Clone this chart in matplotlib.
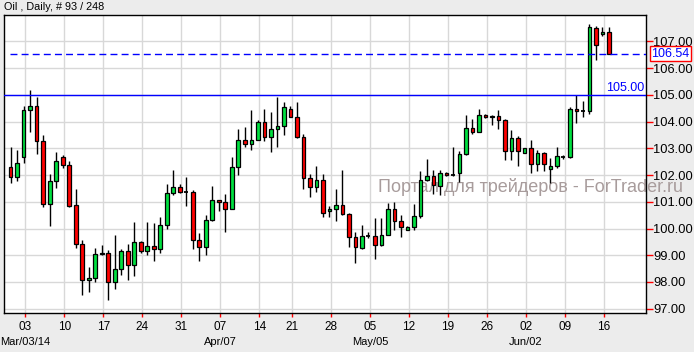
import numpy as np
import pandas as pd
import matplotlib
matplotlib.use("Agg")
import matplotlib.pyplot as plt
from matplotlib.transforms import blended_transform_factory

plt.rcParams['font.family'] = ['Liberation Sans', 'DejaVu Sans']

# Oil, Daily: 93 bars (Sun-Fri sessions)
opens = [102.30, 101.93, 102.67, 104.44, 104.59, 103.26, 100.93, 101.78, 102.67, 102.37,
         100.89, 99.44, 98.06, 98.15, 99.09, 99.07, 98.00, 98.48, 99.15, 98.65,
         99.48, 99.17, 99.33, 99.25, 100.15, 101.33, 101.56, 101.37, 101.37, 99.59,
         99.30, 100.31, 101.07, 101.00, 100.74, 102.30, 103.33, 103.17, 103.33, 104.00,
         103.43, 103.74, 103.85, 104.48, 104.19, 103.43, 101.89, 101.56, 101.81, 100.65,
         100.74, 100.89, 100.55, 99.70, 99.29, 99.72, 99.73, 99.40, 99.77, 100.74,
         100.30, 99.96, 100.04, 100.48, 101.81, 101.95, 101.59, 102.06, 102.01, 102.06,
         102.80, 103.78, 103.62, 104.25, 104.16, 104.22, 104.08, 102.92, 103.38, 102.81,
         103.00, 102.40, 102.81, 102.21, 102.33, 102.67, 102.66, 104.46, 104.41, 104.41,
         107.50, 107.28, 107.35]
highs = [103.05, 102.94, 104.57, 105.20, 104.94, 103.49, 102.05, 102.86, 102.74, 102.53,
         101.49, 99.56, 98.56, 99.27, 99.38, 99.20, 99.75, 99.23, 99.42, 100.25,
         99.52, 100.26, 100.22, 100.42, 101.67, 102.20, 101.67, 101.93, 101.46, 99.83,
         100.49, 101.60, 101.08, 101.31, 102.68, 103.74, 103.79, 104.42, 104.07, 104.49,
         104.36, 104.94, 104.75, 104.57, 104.72, 103.53, 102.04, 102.35, 102.04, 100.86,
         101.49, 102.19, 100.59, 99.87, 100.12, 99.87, 100.40, 100.38, 100.95, 100.98,
         100.52, 100.11, 100.90, 102.17, 102.60, 102.20, 102.20, 102.10, 103.04, 102.90,
         104.25, 104.11, 104.46, 104.30, 104.26, 104.44, 104.10, 103.70, 103.48, 103.00,
         103.31, 102.94, 102.88, 102.63, 103.06, 102.75, 104.56, 105.01, 104.79, 107.66,
         107.59, 107.53, 107.55]
lows = [101.69, 101.77, 102.47, 103.62, 102.80, 100.80, 100.10, 101.51, 102.25, 100.80,
        99.28, 97.51, 97.62, 98.01, 99.02, 97.32, 97.73, 98.28, 98.07, 98.22,
        99.10, 99.02, 98.77, 99.10, 99.98, 101.25, 101.33, 100.84, 99.25, 98.80,
        99.02, 100.27, 100.65, 99.88, 100.74, 101.99, 103.06, 102.95, 103.31, 103.27,
        102.88, 103.06, 103.51, 104.16, 103.40, 101.48, 101.19, 101.37, 100.43, 100.43,
        100.28, 100.49, 99.31, 98.71, 99.24, 99.65, 98.86, 99.35, 99.77, 99.96,
        99.70, 99.93, 99.96, 100.40, 101.79, 101.31, 101.25, 101.95, 101.95, 101.73,
        102.76, 103.54, 103.60, 104.14, 103.88, 103.74, 102.58, 102.58, 102.35, 102.81,
        102.06, 102.16, 102.16, 101.69, 102.25, 102.62, 102.64, 103.94, 104.16, 104.29,
        106.31, 107.21, 106.54]
closes = [101.93, 102.44, 104.44, 104.59, 103.26, 100.93, 101.78, 102.53, 102.37, 100.86,
          99.43, 98.06, 98.15, 99.04, 99.03, 98.00, 98.48, 99.15, 98.65, 99.48,
          99.17, 99.33, 99.25, 100.15, 101.33, 101.56, 101.37, 101.35, 99.59, 99.30,
          100.31, 101.07, 101.00, 100.74, 102.30, 103.33, 103.17, 103.33, 104.00, 103.43,
          103.74, 103.85, 104.56, 104.19, 103.43, 101.89, 101.56, 101.81, 100.59, 100.74,
          100.89, 100.55, 99.70, 99.31, 99.73, 99.73, 99.40, 99.77, 100.74, 100.30,
          100.04, 100.04, 100.48, 101.81, 101.95, 101.62, 102.06, 101.99, 101.99, 102.80,
          103.78, 103.62, 104.25, 104.16, 104.22, 104.08, 102.92, 103.38, 102.91, 103.00,
          102.40, 102.81, 102.40, 102.33, 102.71, 102.69, 104.46, 104.39, 104.40, 107.54,
          106.85, 107.35, 106.54]

level_line = 105.00
last_price = 106.54
yticks = [97, 98, 99, 100, 101, 102, 103, 104, 105, 106, 107]
month_labels = {'2014-03-03': 'Mar/03/14', '2014-04-07': 'Apr/07',
                '2014-05-05': 'May/05', '2014-06-02': 'Jun/02'}

dates = pd.bdate_range('2014-02-28', periods=len(closes), freq='C',
                       weekmask='Sun Mon Tue Wed Thu Fri', holidays=['2014-04-18'])

o = np.array(opens); h = np.array(highs); l = np.array(lows); c = np.array(closes)
x = np.arange(len(c))

bg = '#ececec'
fig = plt.figure(figsize=(6.94, 3.52), dpi=100, facecolor=bg)
ax = fig.add_axes([4 / 694, 1 - 313 / 352, 642 / 694, 298 / 352])
ax.set_facecolor('white')

# grid
mondays = [i for i, d in enumerate(dates) if d.weekday() == 0]
for i in mondays:
    ax.axvline(i + 0.26, color='#d8d8d8', lw=1, zorder=0)
for v in yticks:
    ax.axhline(v, color='#d8d8d8', lw=1, zorder=0)

# candles
ax.vlines(x, l, h, color='black', lw=1, zorder=2)
doji = np.abs(c - o) < 0.03
up = (c >= o) & ~doji
dn = (c < o) & ~doji
ax.bar(x[up], (c - o)[up], bottom=o[up], width=0.55, color='#00e040',
       edgecolor='black', lw=0.9, zorder=3)
ax.bar(x[dn], (o - c)[dn], bottom=c[dn], width=0.55, color='#ff0000',
       edgecolor='black', lw=0.9, zorder=3)
ax.hlines(o[doji], x[doji] - 0.3, x[doji] + 0.3, color='black', lw=1.3, zorder=3)

# levels
ax.axhline(level_line, color='#0000ff', lw=1, zorder=4)
ax.hlines(last_price, -0.1, 98, color='#0000ff', lw=1, linestyles=(0, (5, 3)), zorder=4)
ax.text(0.998, level_line + 0.04, f'{level_line:.2f}', color='#0000ff', fontsize=9,
        ha='right', va='bottom', transform=blended_transform_factory(ax.transAxes, ax.transData))
ax.text(1.008, last_price, f'{last_price:.2f}', color='#0000ff', fontsize=9,
        ha='left', va='center', transform=blended_transform_factory(ax.transAxes, ax.transData),
        bbox=dict(boxstyle='square,pad=0.12', fc='white', ec='red', lw=1), clip_on=False, zorder=6)

ax.set_xlim(-1.03, 97.7)
ax.set_ylim(96.84, 107.99)

ax.yaxis.tick_right()
ax.set_yticks(yticks)
ax.set_yticklabels([f'{v:.2f}' for v in yticks])
ax.tick_params(axis='y', colors='red', labelcolor='black', length=5, width=1, pad=0, labelsize=9.3)

ax.set_xticks([i + 0.26 for i in mondays])
ax.set_xticklabels([dates[i].strftime('%d') for i in mondays])
ax.tick_params(axis='x', colors='red', labelcolor='black', length=3, width=1, pad=3, labelsize=8.5)

for i in mondays:
    key = dates[i].strftime('%Y-%m-%d')
    if key in month_labels:
        ax.text(i + 0.26, -0.097, month_labels[key], fontsize=8, ha='center', va='center',
                transform=ax.get_xaxis_transform())

for s in ax.spines.values():
    s.set_color('black')
    s.set_linewidth(1)

fig.text(4 / 694, 1 - 7 / 352, 'Oil , Daily, # 93 / 248', fontsize=7.8, ha='left', va='center')
ax.text(378 / 694, 1 - 187.5 / 352, 'Портал для трейдеров - ForTrader.ru', fontsize=13,
        color='#a89c9c', ha='left', va='center', transform=fig.transFigure,
        clip_on=False, zorder=1.5)

fig.savefig('out.png', dpi=100, facecolor=bg)
